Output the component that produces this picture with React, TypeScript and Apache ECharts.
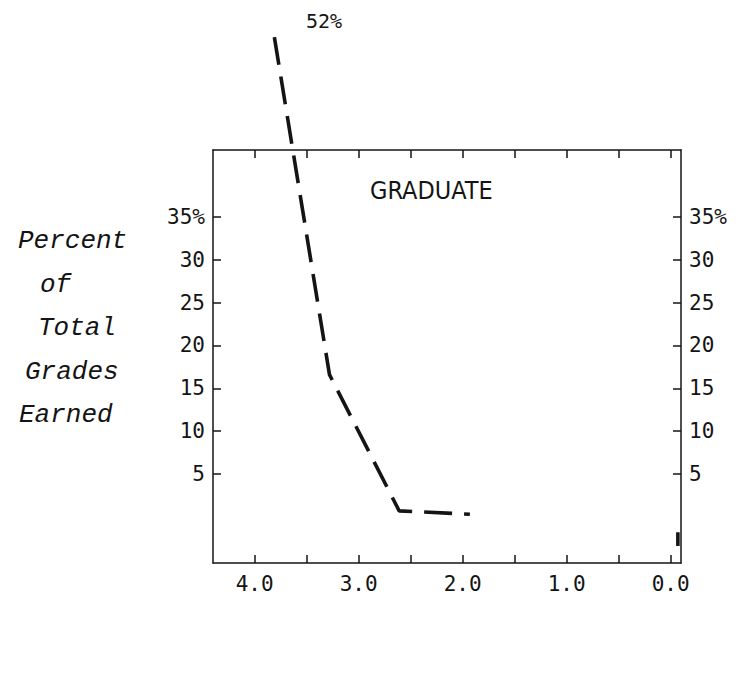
import React, { useEffect, useRef } from "react";
import * as echarts from "echarts";

// Grade-point axis (reversed), percent axis
const xTickValues = [0, 0.5, 1, 1.5, 2, 2.5, 3, 3.5, 4];
const xLabelValues = [0, 1, 2, 3, 4];
const yTickValues = [5, 10, 15, 20, 25, 30, 35];

// Main dashed curve (grade, percent)
const gradePoints = [3.81, 3.28, 2.61, 1.93];
const percentPoints = [56, 16.6, 0.7, 0.3];

// Short stub near 0.0
const stubGrades = [-0.07, -0.07];
const stubPercents = [-1.8, -3.4];

const panelTitle = "GRADUATE";
const offScaleLabel = "52%";
const yTitleLines = ["Percent", "of", "Total", "Grades", "Earned"];

const INK = "#141414";
const NUM_FONT = "'DejaVu Sans Mono', monospace";

export default function App() {
  const ref = useRef<HTMLDivElement>(null);
  useEffect(() => {
    if (!ref.current) return;
    const chart = echarts.init(ref.current, undefined, { renderer: "svg" });
    const axisLineStyle = { color: INK, width: 1.5 };
    const xBase = {
      type: "value" as const,
      inverse: true,
      min: -0.1,
      max: 4.4,
      splitLine: { show: false },
      axisLine: { show: true, onZero: false, lineStyle: axisLineStyle },
      axisTick: {
        show: true,
        inside: true,
        length: 8,
        customValues: xTickValues,
        lineStyle: { color: INK, width: 1.5 },
      },
    };
    const yBase = {
      type: "value" as const,
      min: -5.39,
      max: 42.82,
      splitLine: { show: false },
      axisLine: { show: true, onZero: false, lineStyle: axisLineStyle },
      axisTick: {
        show: true,
        inside: true,
        length: 8,
        customValues: yTickValues,
        lineStyle: { color: INK, width: 1.5 },
      },
      axisLabel: {
        show: true,
        customValues: yTickValues,
        formatter: (v: number) => (v === 35 ? "35%" : String(v)),
        color: INK,
        fontFamily: NUM_FONT,
        fontSize: 21,
        margin: 8,
      },
    };
    const lineStyle = { color: INK, width: 3.6, type: [28, 12] as number[] };
    chart.setOption({
      animation: false,
      backgroundColor: "#ffffff",
      grid: { left: 213, top: 150, width: 468, height: 413, containLabel: false },
      xAxis: [
        {
          ...xBase,
          position: "bottom",
          axisLabel: {
            show: true,
            customValues: xLabelValues,
            formatter: (v: number) => v.toFixed(1),
            color: INK,
            fontFamily: NUM_FONT,
            fontSize: 21,
            margin: 10,
          },
        },
        { ...xBase, position: "top", axisLabel: { show: false } },
      ],
      yAxis: [
        { ...yBase, position: "left" },
        { ...yBase, position: "right" },
      ],
      series: [
        {
          type: "line",
          xAxisIndex: 0,
          yAxisIndex: 0,
          data: gradePoints.map((g, i) => [g, percentPoints[i]]),
          symbol: "none",
          clip: false,
          lineStyle,
        },
        {
          type: "line",
          xAxisIndex: 0,
          yAxisIndex: 0,
          data: stubGrades.map((g, i) => [g, stubPercents[i]]),
          symbol: "none",
          clip: false,
          lineStyle: { color: INK, width: 3.6 },
        },
      ],
      graphic: [
        {
          type: "text",
          left: 370,
          top: 178,
          style: {
            text: panelTitle,
            fill: INK,
            font: "25px 'Liberation Sans Narrow', 'DejaVu Sans Condensed', sans-serif",
          },
        },
        {
          type: "text",
          left: 306,
          top: 11,
          style: { text: offScaleLabel, fill: INK, font: `20px ${NUM_FONT}` },
        },
        ...yTitleLines.map((t, i) => ({
          type: "text",
          left: [18, 40, 38, 25, 19][i],
          top: 228 + i * 43.5,
          style: {
            text: t,
            fill: INK,
            font: "italic 26px 'Liberation Mono', 'DejaVu Sans Mono', monospace",
          },
        })),
      ],
    });
    return () => chart.dispose();
  }, []);
  return (
    <div
      ref={ref}
      style={{ position: "absolute", left: 0, top: 0, width: 738, height: 680, background: "#fff" }}
    />
  );
}
